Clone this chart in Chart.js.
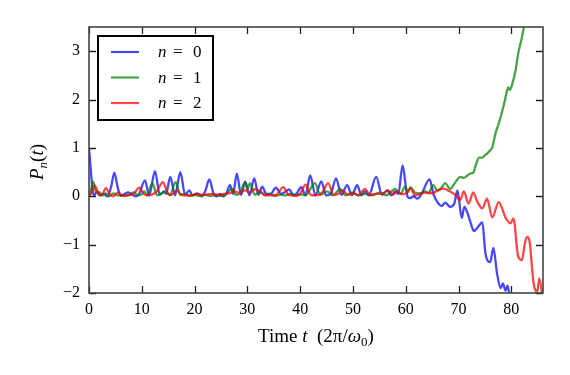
<!DOCTYPE html>
<html>
<head>
<meta charset="utf-8">
<script src="https://cdn.jsdelivr.net/npm/chart.js@4.4.1/dist/chart.umd.min.js"></script>
<style>
  html, body { margin: 0; padding: 0; background: #fff; }
  #wrap { width: 570px; height: 375px; }
</style>
</head>
<body>
<div id="wrap"><canvas id="chart" width="570" height="375"></canvas></div>
<script>
// valeurs (t en unités de 2π/ω0)
const seriesLabels = ['0', '1', '2'];
const seriesColors = ['rgba(0,0,255,0.72)', 'rgba(0,128,0,0.72)', 'rgba(255,0,0,0.72)'];

const tBlue = [0, 0.3, 0.7, 1.0, 1.5, 2.0, 2.8, 3.5, 4.2, 4.8, 5.4, 6.0, 6.8, 7.4, 8.0, 8.8, 9.5, 10.6, 11.4, 12.5,
  13.4, 14.2, 14.6, 15.4, 16.3, 17.3, 18.2, 19.0, 19.6, 20.5, 21.3, 22.0, 22.8, 23.6, 24.2, 24.8, 25.4, 26.0, 26.7, 27.3,
  28.0, 28.8, 29.6, 30.4, 31.3, 32.1, 32.8, 33.6, 34.4, 35.4, 36.4, 37.0, 37.9, 38.7, 39.3, 40.2, 41.0, 41.9, 42.9, 44.0,
  44.9, 45.8, 46.8, 47.8, 48.9, 49.8, 50.8, 51.6, 52.3, 53.0, 54.4, 55.5, 56.5, 57.3, 58.0, 58.6, 59.4, 60.3, 60.8, 61.5,
  62.2, 63.0, 64.5, 65.3, 66.0, 66.8, 67.5, 68.4, 69.2, 69.8, 70.6, 71.1, 71.7, 72.3, 72.9, 73.5, 74.5, 75.1, 76.0, 76.6,
  77.3, 78.0, 78.4, 78.9, 79.3, 79.8];
const pBlue = [1.0, 0.6, 0.1, 0.02, 0.1, 0.02, 0.05, 0.0, 0.2, 0.49, 0.2, 0.01, 0.05, 0.08, 0.05, 0.0, 0.05, 0.33, 0.02, 0.52,
  0.03, 0.1, 0.05, 0.4, 0.02, 0.5, 0.03, 0.12, 0.02, 0.06, 0.0, 0.1, 0.35, 0.05, 0.0, 0.05, 0.0, 0.05, 0.23, 0.05,
  0.47, 0.03, 0.3, 0.02, 0.37, 0.03, 0.2, 0.05, 0.05, 0.18, 0.05, 0.08, 0.14, 0.03, 0.05, 0.19, 0.02, 0.43, 0.02, 0.31,
  0.02, 0.05, 0.37, 0.03, 0.23, 0.02, 0.23, 0.02, 0.1, 0.02, 0.4, 0.03, 0.12, 0.02, 0.1, 0.05, 0.64, 0.0, -0.04, 0.0,
  -0.05, 0.05, 0.35, 0.03, -0.12, -0.2, -0.13, -0.22, -0.15, 0.12, -0.45, -0.22, -0.35, -0.55, -0.72, -0.66, -0.54, -1.18, -1.36, -1.07,
  -1.6, -1.9, -1.8, -1.95, -1.85, -2.2];

const tGreen = [0, 0.4, 0.8, 1.3, 2.0, 2.6, 3.2, 3.8, 4.6, 5.4, 6.2, 7.0, 7.8, 8.5, 9.2, 10.0, 10.5, 11.0, 12.0, 12.9,
  13.6, 14.6, 15.3, 16.4, 17.3, 18.0, 19.0, 20.0, 21.0, 22.0, 23.0, 24.0, 25.0, 26.0, 27.1, 27.8, 28.5, 29.6, 30.0, 30.5,
  31.4, 32.4, 33.3, 34.3, 35.2, 36.2, 37.2, 38.2, 39.2, 40.2, 41.0, 42.8, 43.8, 45.1, 46.2, 47.6, 48.6, 50.0, 51.0, 52.3,
  53.5, 55.2, 56.3, 58.0, 59.0, 59.9, 60.4, 60.9, 61.7, 62.7, 63.6, 64.3, 65.2, 66.0, 66.5, 67.5, 68.4, 69.4, 70.3, 71.0,
  71.7, 72.2, 72.8, 73.2, 73.9, 74.5, 75.0, 75.4, 76.0, 76.4, 77.0, 77.6, 78.3, 78.9, 79.4, 79.7, 80.2, 80.8, 81.3, 82.0,
  82.6];
const pGreen = [0.0, 0.15, 0.3, 0.1, 0.08, 0.02, 0.06, 0.0, 0.06, 0.02, 0.03, 0.01, 0.04, 0.08, 0.02, 0.04, 0.1, 0.02, 0.27, 0.02,
  0.05, 0.1, 0.02, 0.29, 0.03, 0.05, 0.01, 0.03, 0.01, 0.03, 0.01, 0.03, 0.01, 0.05, 0.16, 0.03, 0.05, 0.29, 0.15, 0.27,
  0.03, 0.1, 0.02, 0.05, 0.01, 0.03, 0.02, 0.05, 0.02, 0.04, 0.02, 0.27, 0.03, 0.1, 0.02, 0.15, 0.02, 0.08, 0.02, 0.05,
  0.02, 0.08, 0.02, 0.15, 0.05, 0.2, 0.08, 0.19, 0.08, 0.06, 0.1, 0.06, 0.23, 0.12, 0.14, 0.27, 0.15, 0.29, 0.4, 0.38,
  0.43, 0.47, 0.49, 0.62, 0.8, 0.8, 0.85, 0.88, 0.95, 1.01, 1.3, 1.5, 1.77, 2.04, 2.25, 2.2, 2.33, 2.6, 2.95, 3.28,
  3.63];

const tRed = [0, 0.5, 1.1, 1.8, 2.4, 3.2, 4.0, 4.6, 5.5, 6.3, 7.0, 8.0, 8.7, 9.5, 10.4, 11.2, 12.0, 12.8, 14.0, 15.0,
  15.6, 16.6, 17.5, 18.5, 19.5, 20.5, 21.5, 22.5, 23.5, 24.5, 25.5, 26.5, 27.5, 28.5, 29.5, 30.5, 31.5, 32.4, 33.3, 34.5,
  35.5, 36.8, 37.8, 39.0, 40.0, 41.0, 42.0, 43.0, 44.2, 45.3, 46.3, 47.2, 48.1, 49.0, 50.0, 51.0, 52.3, 53.2, 54.5, 55.5,
  56.7, 57.5, 58.4, 59.3, 60.0, 60.9, 61.8, 62.7, 64.0, 65.0, 66.0, 67.1, 68.0, 69.4, 70.3, 71.0, 71.9, 72.8, 73.5, 74.5,
  75.4, 76.4, 77.6, 78.9, 79.8, 80.4, 81.3, 82.0, 82.6, 83.0, 83.4, 84.2, 84.6, 84.9, 85.3, 85.9];
const pRed = [0.0, 0.08, 0.22, 0.05, 0.02, 0.17, 0.03, 0.0, 0.08, 0.01, 0.02, 0.03, 0.08, 0.18, 0.05, 0.02, 0.04, 0.1, 0.29, 0.05,
  0.03, 0.12, 0.03, 0.02, 0.02, 0.05, 0.03, 0.04, 0.05, 0.03, 0.05, 0.06, 0.1, 0.07, 0.12, 0.08, 0.15, 0.1, 0.03, 0.02,
  0.03, 0.19, 0.03, 0.01, 0.05, 0.24, 0.03, 0.02, 0.08, 0.27, 0.03, 0.05, 0.12, 0.03, 0.06, 0.02, 0.15, 0.03, 0.05, 0.05,
  0.12, 0.03, 0.1, 0.04, 0.06, 0.16, 0.02, 0.05, 0.08, 0.06, 0.12, 0.16, 0.12, 0.03, -0.08, 0.1, -0.15, 0.08, -0.1, -0.25,
  -0.05, -0.44, -0.12, -0.44, -0.56, -0.46, -1.25, -1.32, -0.95, -0.84, -0.9, -1.79, -1.95, -1.97, -1.7, -2.05];

const xTicksMax = 80;
const serif = '"Liberation Serif", "DejaVu Serif", serif';

function pts(ts, ps) {
  return ts.map((t, i) => ({ x: t, y: ps[i] }));
}

function fmt(v) {
  return v < 0 ? '\u2212' + Math.abs(v) : String(v);
}

// texte avec plusieurs styles (italique, indice)
function drawRuns(ctx, runs, cx, cy) {
  let total = 0;
  runs.forEach(r => { ctx.font = r.font; r.w = ctx.measureText(r.text).width; total += r.w; });
  let x = cx - total / 2;
  ctx.textAlign = 'left';
  ctx.textBaseline = 'alphabetic';
  runs.forEach(r => {
    ctx.font = r.font;
    ctx.fillText(r.text, x, cy + (r.dy || 0));
    x += r.w;
  });
}

const overlay = {
  id: 'overlay',
  afterDraw(chart) {
    const { ctx, chartArea: a } = chart;
    const xs = chart.scales.x, ys = chart.scales.y;
    ctx.save();

    // graduations vers l'intérieur sur les 4 côtés
    ctx.strokeStyle = '#222';
    ctx.lineWidth = 1.3;
    ctx.beginPath();
    xs.ticks.forEach(t => {
      const px = Math.round(xs.getPixelForValue(t.value)) + 0.5;
      ctx.moveTo(px, a.bottom); ctx.lineTo(px, a.bottom - 7);
      ctx.moveTo(px, a.top); ctx.lineTo(px, a.top + 7);
    });
    ys.ticks.forEach(t => {
      const py = Math.round(ys.getPixelForValue(t.value)) + 0.5;
      ctx.moveTo(a.left, py); ctx.lineTo(a.left + 7, py);
      ctx.moveTo(a.right, py); ctx.lineTo(a.right - 7, py);
    });
    ctx.stroke();

    // cadre
    ctx.strokeStyle = '#444';
    ctx.lineWidth = 1.6;
    ctx.strokeRect(a.left, a.top, a.right - a.left, a.bottom - a.top);

    // légende
    const lx = 98, ly = 36, lw = 115, lh = 84;
    ctx.fillStyle = '#fff';
    ctx.fillRect(lx, ly, lw, lh);
    ctx.strokeStyle = '#000';
    ctx.lineWidth = 2;
    ctx.strokeRect(lx, ly, lw, lh);
    seriesLabels.forEach((lab, i) => {
      const yy = 52 + i * 25.5;
      ctx.strokeStyle = seriesColors[i];
      ctx.lineWidth = 2.2;
      ctx.beginPath();
      ctx.moveTo(111, yy); ctx.lineTo(139, yy);
      ctx.stroke();
      ctx.fillStyle = '#000';
      ctx.textAlign = 'left';
      ctx.textBaseline = 'alphabetic';
      ctx.font = 'italic 17px ' + serif;
      ctx.fillText('n', 158, yy + 5);
      ctx.font = '17px ' + serif;
      ctx.fillText('=', 173, yy + 5);
      ctx.fillText(lab, 193, yy + 5);
    });

    // titres des axes
    ctx.fillStyle = '#000';
    const up = '19px ' + serif, it = 'italic 19px ' + serif, sub = '13px ' + serif;
    drawRuns(ctx, [
      { text: 'Time ', font: up },
      { text: 't', font: it },
      { text: '  (2\u03c0/', font: up },
      { text: '\u03c9', font: it },
      { text: '0', font: sub, dy: 4 },
      { text: ')', font: up }
    ], (a.left + a.right) / 2, 342);

    ctx.translate(43, (a.top + a.bottom) / 2 + 2);
    ctx.rotate(-Math.PI / 2);
    drawRuns(ctx, [
      { text: 'P', font: it },
      { text: 'n', font: 'italic 13px ' + serif, dy: 4 },
      { text: '(', font: up },
      { text: 't', font: it },
      { text: ')', font: up }
    ], 0, 0);
    ctx.restore();
  }
};

const tickFont = { family: serif, size: 16 };

new Chart(document.getElementById('chart'), {
  type: 'line',
  data: {
    datasets: [
      { label: 'n = 0', data: pts(tBlue, pBlue), borderColor: seriesColors[0], order: 3 },
      { label: 'n = 1', data: pts(tGreen, pGreen), borderColor: seriesColors[1], order: 2 },
      { label: 'n = 2', data: pts(tRed, pRed), borderColor: seriesColors[2], order: 1 }
    ]
  },
  options: {
    responsive: false,
    animation: false,
    events: [],
    layout: { padding: { left: 0, top: 27, right: 27, bottom: 0 } },
    elements: {
      line: { borderWidth: 2.3, cubicInterpolationMode: 'monotone', fill: false },
      point: { radius: 0 }
    },
    plugins: { legend: { display: false }, tooltip: { enabled: false } },
    scales: {
      x: {
        type: 'linear', min: 0, max: 86,
        ticks: { stepSize: 10, includeBounds: false, color: '#000', font: tickFont, padding: 7,
          maxRotation: 0, callback: v => (v <= xTicksMax ? fmt(v) : '') },
        grid: { display: false, drawTicks: false },
        border: { display: false },
        afterFit(s) { s.height = 82; }
      },
      y: {
        min: -2, max: 3.5,
        ticks: { stepSize: 1, includeBounds: false, color: '#000', font: tickFont, padding: 9, callback: v => fmt(v) },
        grid: { display: false, drawTicks: false },
        border: { display: false },
        afterFit(s) { s.width = 89; }
      }
    }
  },
  plugins: [overlay]
});
</script>
</body>
</html>
